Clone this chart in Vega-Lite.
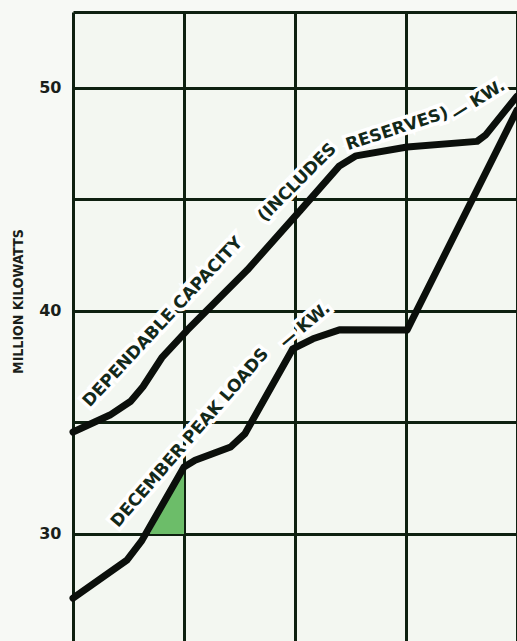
{
  "$schema": "https://vega.github.io/schema/vega-lite/v6.json",
  "width": 444,
  "height": 629,
  "autosize": {"type": "none"},
  "padding": {"left": 73, "top": 12, "right": 0, "bottom": 0},
  "background": "#f7f9f5",
  "config": {
    "view": {"stroke": null, "fill": "#f3f7f1"},
    "axis": {"gridColor": "#0e2010", "gridWidth": 3, "gridOpacity": 1}
  },
  "datasets": {
    "lines": [
      {"series": "capacity", "x": 0.0, "v": 34.57},
      {"series": "capacity", "x": 0.333, "v": 35.33},
      {"series": "capacity", "x": 0.52, "v": 35.95},
      {"series": "capacity", "x": 0.63, "v": 36.6},
      {"series": "capacity", "x": 0.8, "v": 37.9},
      {"series": "capacity", "x": 1.03, "v": 39.14},
      {"series": "capacity", "x": 1.3, "v": 40.49},
      {"series": "capacity", "x": 1.57, "v": 41.83},
      {"series": "capacity", "x": 2.05, "v": 44.52},
      {"series": "capacity", "x": 2.4, "v": 46.5},
      {"series": "capacity", "x": 2.55, "v": 46.95},
      {"series": "capacity", "x": 3.01, "v": 47.35},
      {"series": "capacity", "x": 3.64, "v": 47.6},
      {"series": "capacity", "x": 3.72, "v": 47.9},
      {"series": "capacity", "x": 4.0, "v": 49.63},
      {"series": "peak", "x": 0.0, "v": 27.12},
      {"series": "peak", "x": 0.486, "v": 28.83},
      {"series": "peak", "x": 0.62, "v": 29.7},
      {"series": "peak", "x": 1.0, "v": 33.0},
      {"series": "peak", "x": 1.1, "v": 33.3},
      {"series": "peak", "x": 1.42, "v": 33.9},
      {"series": "peak", "x": 1.55, "v": 34.5},
      {"series": "peak", "x": 1.98, "v": 38.3},
      {"series": "peak", "x": 2.162, "v": 38.75},
      {"series": "peak", "x": 2.4, "v": 39.15},
      {"series": "peak", "x": 3.009, "v": 39.14},
      {"series": "peak", "x": 4.0, "v": 49.0}
    ],
    "patch": [
      {"x": 0.69, "top": 30.0, "bottom": 30.0},
      {"x": 1.0, "top": 32.9, "bottom": 30.0}
    ],
    "labels": [
      {"name": "a", "text": "DEPENDABLE CAPACITY", "x": 0.81, "v": 39.5},
      {"name": "b", "text": "(INCLUDES", "x": 2.02, "v": 45.75},
      {"name": "c", "text": "RESERVES)", "x": 2.92, "v": 48.15},
      {"name": "d", "text": "— KW.", "x": 3.65, "v": 49.45},
      {"name": "e", "text": "DECEMBER PEAK LOADS", "x": 1.054, "v": 34.3},
      {"name": "f", "text": "— KW.", "x": 2.09, "v": 39.35}
    ]
  },
  "layer": [
    {
      "data": {"name": "patch"},
      "mark": {"type": "area", "color": "#6cbd69"},
      "encoding": {
        "x": {
          "field": "x", "type": "quantitative",
          "scale": {"domain": [0, 4]},
          "axis": {"values": [0, 1, 2, 3, 4], "labels": false, "ticks": false, "domain": false, "title": null}
        },
        "y": {
          "field": "top", "type": "quantitative",
          "scale": {"domain": [25.2, 53.4], "nice": false, "zero": false},
          "axis": {
            "values": [30, 35, 40, 45, 50, 53.4],
            "labelExpr": "datum.value % 10 == 0 ? datum.label : ''",
            "ticks": false, "domain": false,
            "labelFont": "DejaVu Sans", "labelFontWeight": "bold", "labelFontSize": 16,
            "labelColor": "#1a1f1a", "labelPadding": 12,
            "title": "MILLION KILOWATTS",
            "titleFont": "DejaVu Sans Condensed", "titleFontWeight": "bold", "titleFontSize": 14,
            "titleColor": "#1a1f1a", "titleX": -55, "titleY": 289, "titleBaseline": "middle", "titleAlign": "center"
          }
        },
        "y2": {"field": "bottom"}
      }
    },
    {"data": {"name": "labels"}, "transform": [{"filter": "datum.name == 'a'"}], "mark": {"type": "text", "angle": -47, "font": "DejaVu Sans", "fontWeight": "bold", "fontSize": 17, "baseline": "middle", "align": "center", "fill": "white", "stroke": "white", "strokeWidth": 7}, "encoding": {"x": {"field": "x", "type": "quantitative"}, "y": {"field": "v", "type": "quantitative"}, "text": {"field": "text"}}},
    {"data": {"name": "labels"}, "transform": [{"filter": "datum.name == 'b'"}], "mark": {"type": "text", "angle": -45, "font": "DejaVu Sans", "fontWeight": "bold", "fontSize": 17, "baseline": "middle", "align": "center", "fill": "white", "stroke": "white", "strokeWidth": 7}, "encoding": {"x": {"field": "x", "type": "quantitative"}, "y": {"field": "v", "type": "quantitative"}, "text": {"field": "text"}}},
    {"data": {"name": "labels"}, "transform": [{"filter": "datum.name == 'c'"}], "mark": {"type": "text", "angle": -18, "font": "DejaVu Sans", "fontWeight": "bold", "fontSize": 17, "baseline": "middle", "align": "center", "fill": "white", "stroke": "white", "strokeWidth": 7}, "encoding": {"x": {"field": "x", "type": "quantitative"}, "y": {"field": "v", "type": "quantitative"}, "text": {"field": "text"}}},
    {"data": {"name": "labels"}, "transform": [{"filter": "datum.name == 'd'"}], "mark": {"type": "text", "angle": -32, "font": "DejaVu Sans", "fontWeight": "bold", "fontSize": 17, "baseline": "middle", "align": "center", "fill": "white", "stroke": "white", "strokeWidth": 7}, "encoding": {"x": {"field": "x", "type": "quantitative"}, "y": {"field": "v", "type": "quantitative"}, "text": {"field": "text"}}},
    {"data": {"name": "labels"}, "transform": [{"filter": "datum.name == 'e'"}], "mark": {"type": "text", "angle": -49, "font": "DejaVu Sans", "fontWeight": "bold", "fontSize": 17, "baseline": "middle", "align": "center", "fill": "white", "stroke": "white", "strokeWidth": 7}, "encoding": {"x": {"field": "x", "type": "quantitative"}, "y": {"field": "v", "type": "quantitative"}, "text": {"field": "text"}}},
    {"data": {"name": "labels"}, "transform": [{"filter": "datum.name == 'f'"}], "mark": {"type": "text", "angle": -40, "font": "DejaVu Sans", "fontWeight": "bold", "fontSize": 17, "baseline": "middle", "align": "center", "fill": "white", "stroke": "white", "strokeWidth": 7}, "encoding": {"x": {"field": "x", "type": "quantitative"}, "y": {"field": "v", "type": "quantitative"}, "text": {"field": "text"}}},
    {
      "data": {"name": "lines"},
      "mark": {"type": "line", "color": "#0b0f0b", "strokeWidth": 7, "strokeJoin": "round", "strokeCap": "round", "interpolate": "linear"},
      "encoding": {
        "x": {"field": "x", "type": "quantitative"},
        "y": {"field": "v", "type": "quantitative"},
        "detail": {"field": "series"}
      }
    },
    {"data": {"name": "labels"}, "transform": [{"filter": "datum.name == 'a'"}], "mark": {"type": "text", "angle": -47, "font": "DejaVu Sans", "fontWeight": "bold", "fontSize": 17, "baseline": "middle", "align": "center", "color": "#13291a"}, "encoding": {"x": {"field": "x", "type": "quantitative"}, "y": {"field": "v", "type": "quantitative"}, "text": {"field": "text"}}},
    {"data": {"name": "labels"}, "transform": [{"filter": "datum.name == 'b'"}], "mark": {"type": "text", "angle": -45, "font": "DejaVu Sans", "fontWeight": "bold", "fontSize": 17, "baseline": "middle", "align": "center", "color": "#13291a"}, "encoding": {"x": {"field": "x", "type": "quantitative"}, "y": {"field": "v", "type": "quantitative"}, "text": {"field": "text"}}},
    {"data": {"name": "labels"}, "transform": [{"filter": "datum.name == 'c'"}], "mark": {"type": "text", "angle": -18, "font": "DejaVu Sans", "fontWeight": "bold", "fontSize": 17, "baseline": "middle", "align": "center", "color": "#13291a"}, "encoding": {"x": {"field": "x", "type": "quantitative"}, "y": {"field": "v", "type": "quantitative"}, "text": {"field": "text"}}},
    {"data": {"name": "labels"}, "transform": [{"filter": "datum.name == 'd'"}], "mark": {"type": "text", "angle": -32, "font": "DejaVu Sans", "fontWeight": "bold", "fontSize": 17, "baseline": "middle", "align": "center", "color": "#13291a"}, "encoding": {"x": {"field": "x", "type": "quantitative"}, "y": {"field": "v", "type": "quantitative"}, "text": {"field": "text"}}},
    {"data": {"name": "labels"}, "transform": [{"filter": "datum.name == 'e'"}], "mark": {"type": "text", "angle": -49, "font": "DejaVu Sans", "fontWeight": "bold", "fontSize": 17, "baseline": "middle", "align": "center", "color": "#13291a"}, "encoding": {"x": {"field": "x", "type": "quantitative"}, "y": {"field": "v", "type": "quantitative"}, "text": {"field": "text"}}},
    {"data": {"name": "labels"}, "transform": [{"filter": "datum.name == 'f'"}], "mark": {"type": "text", "angle": -40, "font": "DejaVu Sans", "fontWeight": "bold", "fontSize": 17, "baseline": "middle", "align": "center", "color": "#13291a"}, "encoding": {"x": {"field": "x", "type": "quantitative"}, "y": {"field": "v", "type": "quantitative"}, "text": {"field": "text"}}}
  ]
}
